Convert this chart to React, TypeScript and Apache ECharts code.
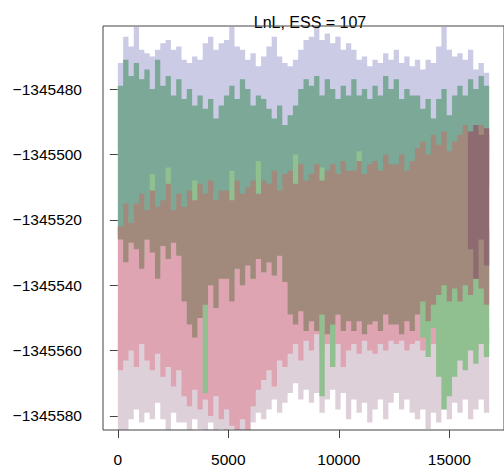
import React, { useEffect, useRef } from "react";
import * as echarts from "echarts";

// MCMC trace of LnL, summarised per block of 240 iterations as [low, high] per chain
const title = "LnL, ESS = 107";
const STEP = 240;
const xTicks = [0, 5000, 10000, 15000];
const yTicks = [-1345580, -1345560, -1345540, -1345520, -1345500, -1345480];

const iterations = [0, 240, 480, 720, 960, 1200, 1440, 1680, 1920, 2160, 2400, 2640, 2880, 3120, 3360, 3600, 3840, 4080, 4320, 4560, 4800, 5040, 5280, 5520, 5760, 6000, 6240, 6480, 6720, 6960, 7200, 7440, 7680, 7920, 8160, 8400, 8640, 8880, 9120, 9360, 9600, 9840, 10080, 10320, 10560, 10800, 11040, 11280, 11520, 11760, 12000, 12240, 12480, 12720, 12960, 13200, 13440, 13680, 13920, 14160, 14400, 14640, 14880, 15120, 15360, 15600, 15840, 16080, 16320, 16560];

const lavenderHi = [-1345472, -1345464, -1345467, -1345461, -1345468, -1345469, -1345470, -1345468, -1345466, -1345465,
  -1345468, -1345467, -1345471, -1345472, -1345470, -1345471, -1345466, -1345464, -1345468, -1345466,
  -1345465, -1345461, -1345467, -1345468, -1345471, -1345469, -1345473, -1345470, -1345467, -1345464,
  -1345470, -1345472, -1345473, -1345471, -1345468, -1345465, -1345464, -1345461, -1345465, -1345463,
  -1345466, -1345464, -1345468, -1345466, -1345468, -1345471, -1345470, -1345473, -1345471, -1345472,
  -1345469, -1345471, -1345468, -1345472, -1345470, -1345473, -1345471, -1345474, -1345471, -1345472,
  -1345467, -1345461, -1345468, -1345470, -1345469, -1345471, -1345468, -1345474, -1345472, -1345475];
const lavenderLo = [-1345498, -1345503, -1345500, -1345505, -1345497, -1345502, -1345499, -1345504, -1345501, -1345496,
  -1345503, -1345499, -1345505, -1345500, -1345502, -1345498, -1345504, -1345501, -1345497, -1345503,
  -1345500, -1345505, -1345498, -1345502, -1345499, -1345504, -1345501, -1345497, -1345503, -1345500,
  -1345502, -1345498, -1345505, -1345499, -1345501, -1345504, -1345497, -1345502, -1345500, -1345503,
  -1345499, -1345505, -1345501, -1345498, -1345503, -1345500, -1345504, -1345497, -1345502, -1345499,
  -1345503, -1345500, -1345498, -1345504, -1345501, -1345499, -1345502, -1345497, -1345503, -1345500,
  -1345498, -1345504, -1345500, -1345502, -1345499, -1345503, -1345501, -1345498, -1345502, -1345500];

const tealHi = [-1345479, -1345471, -1345476, -1345472, -1345477, -1345474, -1345480, -1345471, -1345479, -1345476,
  -1345482, -1345477, -1345483, -1345480, -1345485, -1345482, -1345486, -1345483, -1345489, -1345485,
  -1345482, -1345479, -1345483, -1345477, -1345480, -1345485, -1345482, -1345483, -1345486, -1345489,
  -1345485, -1345491, -1345488, -1345485, -1345480, -1345477, -1345479, -1345476, -1345482, -1345477,
  -1345480, -1345483, -1345479, -1345482, -1345477, -1345482, -1345480, -1345483, -1345479, -1345482,
  -1345476, -1345480, -1345477, -1345483, -1345480, -1345482, -1345482, -1345486, -1345483, -1345489,
  -1345483, -1345480, -1345488, -1345482, -1345479, -1345482, -1345477, -1345480, -1345476, -1345479];
const tealLo = [-1345524, -1345523, -1345525, -1345523, -1345524, -1345526, -1345523, -1345525, -1345524, -1345526,
  -1345523, -1345525, -1345520, -1345518, -1345521, -1345519, -1345522, -1345520, -1345518, -1345521,
  -1345519, -1345520, -1345522, -1345518, -1345521, -1345519, -1345520, -1345518, -1345522, -1345519,
  -1345521, -1345520, -1345518, -1345521, -1345519, -1345522, -1345520, -1345518, -1345521, -1345519,
  -1345514, -1345516, -1345513, -1345515, -1345517, -1345514, -1345516, -1345513, -1345515, -1345517,
  -1345514, -1345516, -1345513, -1345515, -1345517, -1345514, -1345512, -1345510, -1345513, -1345511,
  -1345510, -1345508, -1345512, -1345509, -1345510, -1345508, -1345511, -1345509, -1345508, -1345510];

const brownHi = [-1345522, -1345515, -1345521, -1345515, -1345512, -1345517, -1345511, -1345516, -1345514, -1345509,
  -1345517, -1345512, -1345516, -1345511, -1345514, -1345509, -1345512, -1345508, -1345514, -1345511,
  -1345511, -1345514, -1345508, -1345512, -1345510, -1345508, -1345512, -1345508, -1345509, -1345505,
  -1345511, -1345506, -1345505, -1345509, -1345503, -1345508, -1345506, -1345503, -1345508, -1345505,
  -1345503, -1345506, -1345502, -1345505, -1345505, -1345502, -1345506, -1345503, -1345502, -1345505,
  -1345500, -1345503, -1345503, -1345500, -1345505, -1345502, -1345498, -1345496, -1345500, -1345494,
  -1345497, -1345493, -1345499, -1345496, -1345494, -1345491, -1345496, -1345493, -1345491, -1345494];
const brownLo = [-1345526, -1345533, -1345527, -1345529, -1345535, -1345526, -1345530, -1345538, -1345528, -1345532,
  -1345527, -1345531, -1345545, -1345552, -1345556, -1345550, -1345546, -1345540, -1345547, -1345538,
  -1345538, -1345545, -1345535, -1345540, -1345534, -1345538, -1345532, -1345536, -1345533, -1345537,
  -1345531, -1345539, -1345549, -1345552, -1345548, -1345554, -1345551, -1345554, -1345549, -1345555,
  -1345552, -1345549, -1345554, -1345551, -1345554, -1345551, -1345555, -1345552, -1345551, -1345554,
  -1345549, -1345552, -1345552, -1345555, -1345551, -1345554, -1345549, -1345545, -1345551, -1345546,
  -1345543, -1345540, -1345545, -1345541, -1345545, -1345540, -1345543, -1345538, -1345541, -1345546];

const pinkHi = [-1345522, -1345525, -1345521, -1345524, -1345523, -1345520, -1345525, -1345522, -1345524, -1345521,
  -1345523, -1345526, -1345522, -1345524, -1345521, -1345525, -1345523, -1345520, -1345524, -1345522,
  -1345525, -1345521, -1345523, -1345526, -1345522, -1345524, -1345520, -1345523, -1345525, -1345521,
  -1345524, -1345522, -1345526, -1345521, -1345523, -1345525, -1345522, -1345524, -1345520, -1345523,
  -1345525, -1345521, -1345524, -1345522, -1345526, -1345523, -1345521, -1345525, -1345522, -1345524,
  -1345520, -1345523, -1345525, -1345521, -1345524, -1345522, -1345526, -1345523, -1345521, -1345524,
  -1345522, -1345525, -1345520, -1345523, -1345524, -1345521, -1345525, -1345522, -1345524, -1345523];
const pinkLo = [-1345566, -1345563, -1345560, -1345565, -1345558, -1345563, -1345566, -1345561, -1345568, -1345565,
  -1345571, -1345566, -1345574, -1345577, -1345572, -1345578, -1345575, -1345580, -1345574, -1345581,
  -1345578, -1345583, -1345585, -1345581, -1345585, -1345577, -1345572, -1345569, -1345566, -1345571,
  -1345563, -1345565, -1345561, -1345558, -1345563, -1345557, -1345560, -1345555, -1345561, -1345558,
  -1345563, -1345558, -1345565, -1345560, -1345558, -1345561, -1345557, -1345560, -1345561, -1345558,
  -1345560, -1345557, -1345558, -1345557, -1345560, -1345558, -1345557, -1345560, -1345555, -1345558,
  -1345557, -1345555, -1345558, -1345557, -1345558, -1345555, -1345557, -1345560, -1345557, -1345558];

const lightHi = [-1345550, -1345548, -1345552, -1345549, -1345551, -1345553, -1345548, -1345550, -1345552, -1345549,
  -1345551, -1345548, -1345553, -1345550, -1345549, -1345552, -1345548, -1345551, -1345550, -1345553,
  -1345549, -1345552, -1345548, -1345550, -1345551, -1345549, -1345553, -1345548, -1345550, -1345552,
  -1345549, -1345551, -1345548, -1345553, -1345550, -1345549, -1345552, -1345548, -1345551, -1345550,
  -1345553, -1345549, -1345551, -1345548, -1345552, -1345550, -1345549, -1345553, -1345548, -1345551,
  -1345550, -1345552, -1345549, -1345548, -1345551, -1345553, -1345550, -1345549, -1345552, -1345548,
  -1345551, -1345550, -1345553, -1345549, -1345548, -1345552, -1345550, -1345551, -1345549, -1345553];
const lightLo = [-1345585, -1345585, -1345581, -1345578, -1345582, -1345579, -1345581, -1345576, -1345581, -1345585,
  -1345579, -1345582, -1345582, -1345585, -1345581, -1345584, -1345585, -1345582, -1345585, -1345584,
  -1345585, -1345584, -1345585, -1345585, -1345585, -1345582, -1345579, -1345581, -1345578, -1345575,
  -1345579, -1345576, -1345573, -1345570, -1345575, -1345572, -1345576, -1345573, -1345579, -1345575,
  -1345572, -1345578, -1345573, -1345581, -1345575, -1345579, -1345576, -1345582, -1345578, -1345575,
  -1345581, -1345576, -1345573, -1345578, -1345575, -1345579, -1345581, -1345578, -1345584, -1345579,
  -1345582, -1345578, -1345581, -1345576, -1345579, -1345575, -1345581, -1345578, -1345575, -1345579];

const greenHi = [-1345524, -1345519, -1345523, -1345518, -1345515, -1345519, -1345506, -1345518, -1345516, -1345504,
  -1345519, -1345515, -1345518, -1345514, -1345508, -1345512, -1345515, -1345511, -1345517, -1345514,
  -1345514, -1345505, -1345511, -1345515, -1345513, -1345511, -1345502, -1345511, -1345512, -1345508,
  -1345514, -1345509, -1345508, -1345500, -1345511, -1345511, -1345509, -1345506, -1345504, -1345508,
  -1345506, -1345509, -1345505, -1345508, -1345508, -1345499, -1345509, -1345506, -1345505, -1345508,
  -1345503, -1345506, -1345506, -1345503, -1345508, -1345505, -1345501, -1345518, -1345520, -1345515,
  -1345525, -1345520, -1345522, -1345525, -1345520, -1345522, -1345518, -1345520, -1345518, -1345522];
const greenLo = [-1345525, -1345530, -1345526, -1345528, -1345532, -1345525, -1345528, -1345534, -1345527, -1345530,
  -1345526, -1345529, -1345535, -1345540, -1345538, -1345536, -1345573, -1345540, -1345538, -1345536,
  -1345535, -1345538, -1345535, -1345540, -1345532, -1345538, -1345530, -1345536, -1345533, -1345535,
  -1345529, -1345538, -1345540, -1345542, -1345540, -1345552, -1345543, -1345545, -1345574, -1345546,
  -1345565, -1345549, -1345545, -1345543, -1345546, -1345543, -1345547, -1345545, -1345543, -1345546,
  -1345542, -1345545, -1345544, -1345547, -1345543, -1345546, -1345540, -1345556, -1345562, -1345553,
  -1345568, -1345578, -1345574, -1345568, -1345563, -1345566, -1345560, -1345564, -1345558, -1345562];

const mauveIter = [15840, 16080, 16320, 16560];
const mauveHi = [-1345493, -1345491, -1345494, -1345492];
const mauveLo = [-1345529, -1345538, -1345526, -1345534];

const FONT = "'Liberation Sans', Arial, Helvetica, sans-serif";

// one stepped envelope per chain: each block of iterations spans its [low, high]
function band(name: string, color: string, xs: number[], lo: number[], hi: number[]) {
  const data = xs.map((x, i) => [x, lo[i], hi[i]]);
  return {
    type: "custom",
    name,
    clip: true,
    silent: true,
    data,
    encode: { x: 0, y: [1, 2] },
    renderItem: (params: any, api: any) => {
      if (params.dataIndex !== 0) return null;
      const top: number[][] = [];
      const bottom: number[][] = [];
      for (let i = 0; i < data.length; i++) {
        const x0 = data[i][0];
        const x1 = x0 + STEP;
        top.push(api.coord([x0, data[i][2]]), api.coord([x1, data[i][2]]));
        bottom.push(api.coord([x0, data[i][1]]), api.coord([x1, data[i][1]]));
      }
      return {
        type: "polygon",
        shape: { points: top.concat(bottom.reverse()) },
        style: { fill: color },
      };
    },
  };
}

export default function App() {
  const ref = useRef<HTMLDivElement>(null);
  useEffect(() => {
    if (!ref.current) return;
    const chart = echarts.init(ref.current, null, { renderer: "svg" });
    const minus = (v: number) => String(v).replace("-", "\u2212");
    chart.setOption({
      animation: false,
      backgroundColor: "#ffffff",
      title: {
        text: title,
        left: 305,
        top: 9,
        textAlign: "center",
        textStyle: { fontFamily: FONT, fontSize: 16, fontWeight: "normal", color: "#000" },
      },
      grid: { left: 103, top: 26, width: 404, height: 404, show: true, borderColor: "#444", borderWidth: 1, backgroundColor: "transparent", z: 10 },
      xAxis: {
        type: "value",
        min: -672,
        max: 17472,
        splitLine: { show: false },
        axisLine: { show: false },
        axisTick: { show: true, length: 8, customValues: xTicks, lineStyle: { color: "#444" } },
        axisLabel: { customValues: xTicks, margin: 21, fontFamily: FONT, fontSize: 15.5, color: "#000", formatter: (v: number) => String(v) },
      },
      yAxis: {
        type: "value",
        min: -1345584.3,
        max: -1345460.7,
        splitLine: { show: false },
        axisLine: { show: false },
        axisTick: { show: true, length: 8, customValues: yTicks, lineStyle: { color: "#444" } },
        axisLabel: { customValues: yTicks, margin: 21, fontFamily: FONT, fontSize: 15.5, color: "#000", formatter: minus },
      },
      series: [
        band("lavender", "#cbcbe6", iterations, lavenderLo, lavenderHi),
        band("light", "#ddd0d9", iterations, lightLo, lightHi),
        band("pink", "#dea4b1", iterations, pinkLo, pinkHi),
        band("teal", "#7ba897", iterations, tealLo, tealHi),
        band("green", "#90bf90", iterations, greenLo, greenHi),
        band("brown", "#a18a7b", iterations, brownLo, brownHi),
        band("mauve", "#8d6b70", mauveIter, mauveLo, mauveHi),
      ],
    });
    return () => chart.dispose();
  }, []);
  return (
    <div
      ref={ref}
      style={{ position: "fixed", left: 0, top: 0, width: 504, height: 474, background: "#fff" }}
    />
  );
}
